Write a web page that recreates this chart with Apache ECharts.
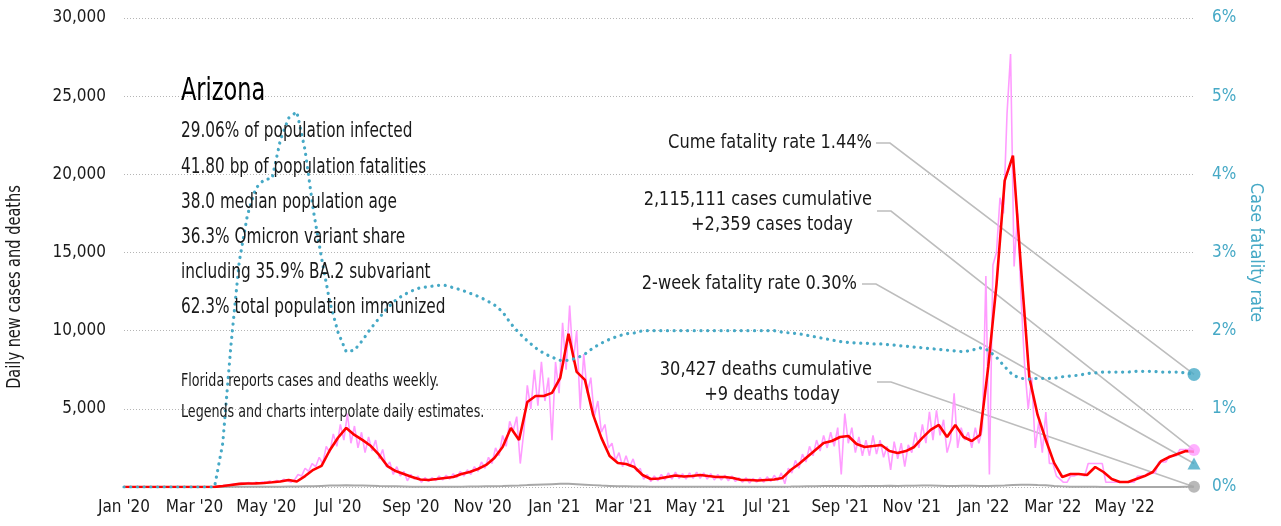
<!DOCTYPE html>
<html>
<head>
<meta charset="utf-8">
<script src="https://cdn.jsdelivr.net/npm/echarts@6/dist/echarts.min.js"></script>
<style>
html, body { margin: 0; padding: 0; background: #fff; }
#chart { width: 1281px; height: 526px; }
</style>
</head>
<body>
<div id="chart"></div>
<script>
// dates: weekly series start on startDate, raw cases every 3 days from day 1
const startDate = '2020-01-01'
const endDate = '2022-06-29'
const weekStep = 7
const rawStep = 3
const rawOffset = 1

const xTickDates = ['2020-01-01', '2020-03-01', '2020-05-01', '2020-07-01', '2020-09-01', '2020-11-01',
  '2021-01-01', '2021-03-01', '2021-05-01', '2021-07-01', '2021-09-01', '2021-11-01',
  '2022-01-01', '2022-03-01', '2022-05-01']
const xTickLabels = ["Jan '20", "Mar '20", "May '20", "Jul '20", "Sep '20", "Nov '20",
  "Jan '21", "Mar '21", "May '21", "Jul '21", "Sep '21", "Nov '21",
  "Jan '22", "Mar '22", "May '22"]

// 7-day average of new cases, weekly
const casesAvg = [
  0, 0, 0, 0, 0, 0, 0, 0, 0, 0,
  0, 10, 60, 130, 200, 220, 230, 260, 300, 350,
  450, 350, 700, 1100, 1350, 2350, 3150, 3780, 3330, 3000,
  2620, 2050, 1340, 1020, 830, 640, 480, 450, 510, 580,
  640, 830, 960, 1150, 1410, 1860, 2560, 3780, 3000, 5440,
  5820, 5820, 6020, 6980, 9800, 7360, 6850, 4610, 3140, 1980,
  1540, 1470, 1280, 770, 510, 540, 640, 740, 670, 700,
  770, 700, 640, 640, 580, 450, 450, 420, 450, 480,
  580, 1090, 1470, 1920, 2370, 2820, 2940, 3200, 3260, 2750,
  2560, 2620, 2690, 2300, 2180, 2300, 2560, 3140, 3650, 3970,
  3200, 3970, 3200, 2940, 3330, 7680, 12930, 19600, 21200, 13890,
  6980, 4610, 3010, 1540, 640, 830, 830, 770, 1280, 960,
  510, 320, 320, 510, 700, 960, 1660, 1920, 2110, 2300,
  2250
]

// reported daily new cases, every 3 days
const casesRaw = [
  0, 0, 0, 0, 0, 0, 0, 0, 0, 0,
  0, 0, 0, 0, 0, 0, 0, 0, 0, 0,
  0, 0, 0, 0, 0, 0, 0, 50, 90, 120,
  160, 200, 170, 250, 220, 280, 200, 300, 250, 330,
  280, 380, 300, 420, 350, 500, 400, 300, 450, 800,
  700, 1200, 1000, 1500, 1300, 1900, 1500, 2600, 2200, 3400,
  2600, 4000, 3000, 4700, 2800, 3900, 2500, 3500, 2200, 3200,
  2300, 3000, 1800, 2400, 1300, 1600, 800, 1300, 700, 1000,
  400, 800, 500, 700, 300, 600, 350, 600, 400, 700,
  450, 750, 500, 850, 600, 1000, 700, 1100, 800, 1300,
  1000, 1600, 1200, 1900, 1500, 2500, 2000, 3300, 2600, 4200,
  3600, 4500, 1500, 3500, 6500, 5000, 7500, 5200, 8000, 5500,
  7000, 3000, 8000, 6000, 10500, 7500, 11600, 8000, 10000, 5000,
  8500, 6000, 7000, 4500, 5500, 3500, 4000, 2500, 2800, 1700,
  2200, 1300, 2000, 1300, 1800, 1000, 1200, 500, 800, 350,
  700, 400, 800, 450, 900, 500, 950, 550, 850, 500,
  900, 550, 950, 550, 900, 500, 850, 450, 800, 450,
  750, 400, 700, 350, 600, 300, 600, 250, 550, 300,
  600, 300, 650, 350, 750, 400, 900, 200, 1200, 900,
  1700, 1200, 2100, 1600, 2600, 2000, 3000, 2300, 3300, 2500,
  3500, 2600, 3800, 800, 4700, 2800, 3800, 2200, 3200, 2000,
  3000, 2000, 3300, 2100, 3000, 1900, 2600, 1100, 2900, 1800,
  2800, 1300, 2700, 2200, 3500, 2500, 4000, 2800, 4800, 3000,
  4900, 3300, 4300, 2200, 3000, 6000, 2500, 3800, 3000, 3500,
  2500, 3800, 2800, 3700, 13500, 800, 14200, 15000, 18500, 17500,
  23900, 27700, 14100, 17500, 12000, 7700, 5000, 7000, 2500, 4200,
  2200, 4800, 1500, 1500, 700, 500, 300, 300, 700, 700,
  800, 800, 700, 1500, 1500, 1500, 1500, 1500, 300, 300,
  300, 300, 300, 300, 300, 300, 300, 700, 700, 700,
  900, 900, 900, 1600, 1600, 1600, 2000, 2000, 2000, 2400,
  2400, 2400, 2400, 2359
]

// daily deaths, weekly
const deathsDaily = [
  0, 0, 0, 0, 0, 0, 0, 0, 0, 0,
  0, 0, 5, 10, 15, 20, 20, 15, 15, 20,
  25, 30, 40, 50, 70, 90, 100, 110, 100, 90,
  80, 60, 50, 40, 30, 20, 15, 15, 10, 15,
  15, 20, 25, 30, 40, 50, 60, 80, 90, 120,
  140, 160, 180, 200, 200, 180, 150, 120, 90, 70,
  50, 40, 30, 25, 20, 15, 15, 12, 12, 10,
  10, 10, 10, 8, 8, 8, 8, 8, 10, 12,
  18, 25, 35, 45, 55, 60, 60, 65, 60, 55,
  60, 65, 70, 75, 70, 80, 85, 90, 90, 80,
  70, 70, 75, 80, 70, 60, 80, 100, 130, 150,
  140, 120, 110, 60, 40, 20, 10, 8, 8, 6,
  5, 5, 5, 5, 5, 5, 6, 6, 7, 8,
  9
]

// case fatality rate %, weekly
const fatalityRate = [
  0, 0, 0, 0, 0, 0, 0, 0, 0, 0,
  0, 0, 0.56, 1.82, 2.88, 3.48, 3.82, 3.93, 3.95, 4.44,
  4.72, 4.8, 4.31, 3.54, 2.93, 2.37, 1.98, 1.73, 1.75, 1.88,
  2.03, 2.16, 2.29, 2.39, 2.46, 2.51, 2.55, 2.56, 2.58, 2.58,
  2.55, 2.52, 2.48, 2.44, 2.39, 2.33, 2.24, 2.09, 1.97, 1.87,
  1.78, 1.71, 1.66, 1.62, 1.62, 1.65, 1.70, 1.78, 1.84, 1.89,
  1.93, 1.96, 1.97, 2.0, 2.0, 2.0, 2.0, 2.0, 2.0, 2.0,
  2.0, 2.0, 2.0, 2.0, 2.0, 2.0, 2.0, 2.0, 2.0, 2.0,
  1.98, 1.97, 1.96, 1.94, 1.92, 1.90, 1.88, 1.86, 1.85, 1.84,
  1.84, 1.83, 1.83, 1.82, 1.81, 1.80, 1.79, 1.78, 1.77, 1.76,
  1.75, 1.74, 1.73, 1.75, 1.78, 1.75, 1.66, 1.54, 1.43, 1.39,
  1.38, 1.39, 1.39, 1.39, 1.41, 1.42, 1.43, 1.45, 1.46, 1.47,
  1.47, 1.47, 1.47, 1.48, 1.48, 1.48, 1.47, 1.47, 1.47, 1.46,
  1.44
]

// latest values (end markers)
const cumeFatality = 1.44
const twoWeekFatality = 0.30
const casesToday = 2359
const deathsToday = 9
const casesCumulative = '2,115,111'
const deathsCumulative = '30,427'

const infoLines = [
  '29.06% of population infected',
  '41.80 bp of population fatalities',
  '38.0 median population age',
  '36.3% Omicron variant share',
  'including 35.9% BA.2 subvariant',
  '62.3% total population immunized'
]
const noteLines = [
  'Florida reports cases and deaths weekly.',
  'Legends and charts interpolate daily estimates.'
]

const FONT = "'DejaVu Sans Condensed', 'DejaVu Sans', sans-serif"
const BLUE = '#46a9c6'
const TEXT = '#1a1a1a'

function ts(s) {
  let p = s.split('-').map(Number)
  return new Date(p[0], p[1] - 1, p[2]).getTime()
}
function dayTs(d) {
  let p = startDate.split('-').map(Number)
  return new Date(p[0], p[1] - 1, p[2] + d).getTime()
}
const weekly = arr => arr.map((v, i) => [dayTs(i * weekStep), v])
const rawPts = casesRaw.map((v, i) => [dayTs(rawOffset + i * rawStep), v])
const endTs = ts(endDate)
const tickTs = xTickDates.map(ts)

// condensed text: the installed fonts are wider than the original, so squeeze horizontally
function label(text, x, y, size, sx, align, extra) {
  return Object.assign({
    type: 'text', x: x, y: y, scaleX: sx, z: 10, silent: true,
    style: { text: text, fontSize: size, fontFamily: FONT, fill: TEXT,
      textAlign: align || 'left', textVerticalAlign: 'middle' }
  }, extra || {})
}

var chart = echarts.init(document.getElementById('chart'))

let graphics = []
graphics.push(label('Arizona', 181, 92, 32, 0.78, 'left'))
graphics[0].style.fill = '#000'
infoLines.forEach((t, i) => {
  graphics.push(label(t, 181, 132 + i * 35.2, 21, 0.81, 'left'))
})
noteLines.forEach((t, i) => {
  graphics.push(label(t, 181, 382 + i * 31, 17, 0.83, 'left'))
})
graphics.push(label('Daily new cases and deaths', 15, 287, 20, 0.81, 'center', { rotation: Math.PI / 2 }))

// annotation texts on the right
const notes = [
  { lines: ['Cume fatality rate ' + cumeFatality.toFixed(2) + '%'], y: 143 },
  { lines: [casesCumulative + ' cases cumulative', '+' + casesToday.toLocaleString('en-US') + ' cases today'], y: 200 },
  { lines: ['2-week fatality rate ' + twoWeekFatality.toFixed(2) + '%'], y: 284, right: 857 },
  { lines: [deathsCumulative + ' deaths cumulative', '+' + deathsToday + ' deaths today'], y: 370 }
]
notes.forEach(n => {
  let right = n.right || 872
  graphics.push(label(n.lines[0], right, n.y, 20, 0.9, 'right'))
  if (n.lines[1]) {
    graphics.push(label(n.lines[1], right - 100, n.y + 25, 20, 0.9, 'center'))
  }
})

chart.setOption({
  animation: false,
  grid: { left: 124, right: 87, top: 18, bottom: 39, containLabel: false, outerBoundsMode: 'none' },
  xAxis: {
    type: 'value',
    min: ts(startDate),
    max: endTs,
    axisLine: { show: false },
    axisTick: { show: false },
    splitLine: { show: false },
    axisLabel: {
      customValues: tickTs,
      margin: 12,
      fontSize: 17,
      fontFamily: FONT,
      color: TEXT,
      hideOverlap: false,
      formatter: v => {
        let k = tickTs.indexOf(v)
        return k >= 0 ? xTickLabels[k] : ''
      }
    }
  },
  yAxis: [
    {
      type: 'value',
      min: 0,
      max: 30000,
      interval: 5000,
      axisLine: { show: false },
      axisTick: { show: false },
      splitLine: { show: true, lineStyle: { color: '#b5b5b5', width: 1, type: [1, 2] } },
      axisLabel: {
        margin: 18, fontSize: 17, fontFamily: FONT, color: TEXT,
        formatter: v => v === 0 ? '' : v.toLocaleString('en-US')
      }
    },
    {
      type: 'value',
      min: 0,
      max: 6,
      interval: 1,
      position: 'right',
      axisLine: { show: false },
      axisTick: { show: false },
      splitLine: { show: false },
      name: 'Case fatality rate',
      nameLocation: 'middle',
      nameRotate: -90,
      nameGap: 46,
      nameTextStyle: { fontSize: 18, fontFamily: FONT, color: BLUE },
      axisLabel: {
        margin: 18, fontSize: 17, fontFamily: FONT, color: BLUE,
        formatter: v => v + '%'
      }
    }
  ],
  series: [
    {
      name: 'Reported cases',
      type: 'line',
      data: rawPts,
      showSymbol: false,
      z: 2,
      lineStyle: { color: '#ff9cff', width: 1.6 },
      itemStyle: { color: '#ff9cff' }
    },
    {
      name: 'Deaths',
      type: 'line',
      data: weekly(deathsDaily),
      showSymbol: false,
      z: 2,
      lineStyle: { color: '#a8a8a8', width: 2 },
      itemStyle: { color: '#a8a8a8' }
    },
    {
      name: 'Cases 7-day average',
      type: 'line',
      data: weekly(casesAvg),
      showSymbol: false,
      z: 3,
      lineStyle: { color: '#ff0000', width: 2.6 },
      itemStyle: { color: '#ff0000' }
    },
    {
      name: 'Case fatality rate',
      type: 'line',
      yAxisIndex: 1,
      data: weekly(fatalityRate),
      showSymbol: false,
      z: 4,
      lineStyle: { color: BLUE, width: 3.2, type: [0.1, 6.6], cap: 'round' },
      itemStyle: { color: BLUE }
    },
    {
      name: 'Latest cases and deaths',
      type: 'scatter',
      z: 6,
      silent: true,
      data: [
        { value: [endTs, casesToday], symbolSize: 12, itemStyle: { color: '#ff9cff' } },
        { value: [endTs, deathsToday], symbolSize: 12, itemStyle: { color: '#a8a8a8' } }
      ]
    },
    {
      name: 'Latest fatality rates',
      type: 'scatter',
      yAxisIndex: 1,
      z: 6,
      silent: true,
      data: [
        { value: [endTs, cumeFatality], symbolSize: 13, itemStyle: { color: BLUE } },
        { value: [endTs, twoWeekFatality], symbol: 'triangle', symbolSize: [13, 12], itemStyle: { color: BLUE } }
      ]
    }
  ],
  graphic: graphics
})

// leader lines from the annotations to the end markers
let pCases = chart.convertToPixel({ seriesIndex: 4 }, [endTs, casesToday])
let pDeaths = chart.convertToPixel({ seriesIndex: 4 }, [endTs, deathsToday])
let pCume = chart.convertToPixel({ seriesIndex: 5 }, [endTs, cumeFatality])
let pTwoWeek = chart.convertToPixel({ seriesIndex: 5 }, [endTs, twoWeekFatality])
const leaders = [
  { from: [876, 143], to: pCume },
  { from: [877, 211], to: pCases },
  { from: [862, 284], to: pTwoWeek },
  { from: [877, 382], to: pDeaths }
]
leaders.forEach(l => {
  graphics.push({
    type: 'polyline', z: 1, silent: true,
    shape: { points: [l.from, [l.from[0] + 14, l.from[1]], l.to] },
    style: { stroke: '#bdbdbd', lineWidth: 1.6, fill: null }
  })
})
chart.setOption({ graphic: graphics })
</script>
</body>
</html>
